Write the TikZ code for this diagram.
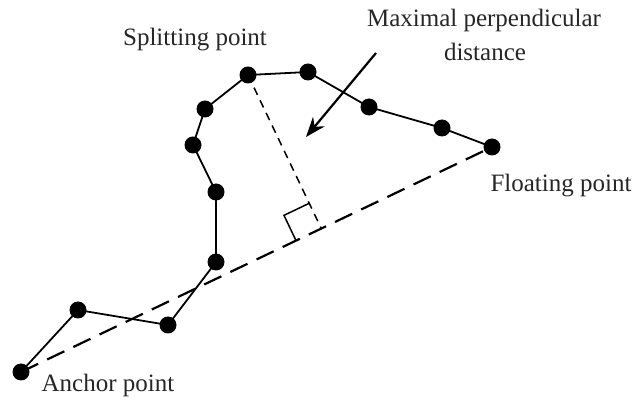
\documentclass[tikz,border=0pt]{standalone}
\usepackage{fontspec}
\setmainfont{Liberation Serif}
\usetikzlibrary{arrows.meta,calc}
\begin{document}
\begin{tikzpicture}[x=1pt,y=-1pt,
  pt/.style={circle,fill=black,inner sep=0pt,minimum size=17pt},
  lbl/.style={font=\fontsize{25}{28}\selectfont,inner sep=0pt,text=black!85},
  poly/.style={line width=1.8pt},
  base/.style={line width=2.2pt,dash pattern=on 19pt off 10pt},
  perp/.style={line width=1.5pt,dash pattern=on 8pt off 6pt}]
\useasboundingbox (0,0) rectangle (635,403);
\coordinate (p1) at (21,372);
\coordinate (p2) at (78,310);
\coordinate (p3) at (168,325);
\coordinate (p4) at (216,262);
\coordinate (p5) at (216,192);
\coordinate (p6) at (193,145);
\coordinate (p7) at (205,109);
\coordinate (p8) at (248,75);
\coordinate (p9) at (308,72);
\coordinate (p10) at (369,107);
\coordinate (p11) at (442,128);
\coordinate (p12) at (492,147);
% baseline
\draw[base] (p1) -- (p12);
% polyline
\draw[poly] (p1) -- (p2) -- (p3) -- (p4) -- (p5) -- (p6) -- (p7) -- (p8) -- (p9) -- (p10) -- (p11) -- (p12);
% perpendicular
\coordinate (f) at ($(p1)!(p8)!(p12)$);
\draw[perp] (p8) -- (f);
\coordinate (ma) at ($(f)!28pt!(p1)$);
\coordinate (mb) at ($(f)!28pt!(p8)$);
\coordinate (mc) at ($(ma)+(mb)-(f)$);
\draw[line width=1.5pt] (ma) -- (mc) -- (mb);
% dots
\foreach \i in {1,...,12} \node[pt] (n\i) at (p\i) {};
% arrow
\coordinate (a1) at (376,53);
\coordinate (a2) at (306,137);
\draw[line width=2.2pt,-{Stealth[length=20pt,width=15pt]}] (a1) -- (a2);
% labels
\node[lbl] (l1) at (108,385) {Anchor point};
\node[lbl] (l2) at (195,40) {Splitting point};
\node[lbl] (l3) at (484,20) {Maximal perpendicular};
\node[lbl] (l4) at (485,52) {distance};
\node[lbl] (l5) at (561,186) {Floating point};
\end{tikzpicture}
\end{document}
